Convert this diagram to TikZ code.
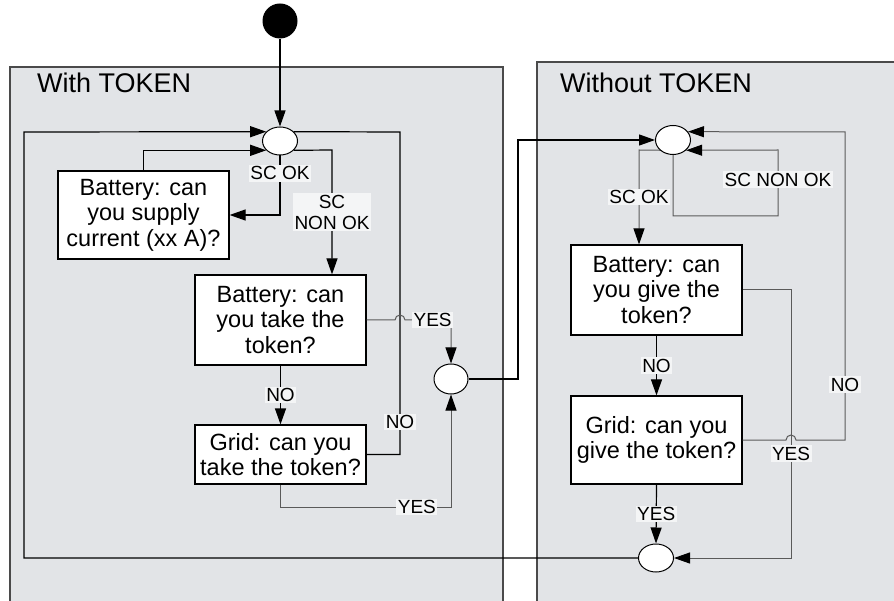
\documentclass[tikz,border=0pt]{standalone}
\usepackage{fontspec}
\setmainfont{Liberation Sans}
\usetikzlibrary{arrows.meta,shapes.geometric}
\definecolor{panel}{HTML}{E2E4E7}
\definecolor{labbg}{HTML}{F4F5F6}
\definecolor{edge}{HTML}{4A4A4A}
\definecolor{lgray}{HTML}{5A5A5A}
\tikzset{
  box/.style={draw=black, fill=white, line width=1.2pt, align=center, inner sep=0pt,
    minimum width=171pt, font=\fontsize{23.5}{25.5}\selectfont},
  junc/.style={ellipse, draw=black, fill=white, line width=1pt, inner sep=0pt,
    minimum width=35pt, minimum height=28pt},
  lab/.style={fill=labbg, inner sep=1.5pt, font=\fontsize{19}{21}\selectfont, align=center},
  flow/.style={line width=1.2pt, draw=black},
  arr/.style={flow, -{Triangle[length=16pt,width=11pt,color=black]}},
  thinflow/.style={line width=1pt, draw=lgray},
  arrthin/.style={thinflow, -{Triangle[length=16pt,width=11pt,color=black]}},
  paneltitle/.style={anchor=west, inner sep=0pt, font=\fontsize{27}{30}\selectfont}
}
\begin{document}
\begin{tikzpicture}[x=1pt,y=-1pt]
\useasboundingbox (0,0) rectangle (894,601);
% panels
\fill[panel] (10,67) rectangle (503,601);
\draw[edge, line width=1.5pt] (10,601) -- (10,67) -- (503,67) -- (503,601);
\fill[panel] (537,62) rectangle (894,601);
\draw[edge, line width=1.5pt] (537,601) -- (537,62) -- (894,62);
\node[paneltitle] (lt) at (37,83) {With TOKEN};
\node[paneltitle] (rt) at (560,83) {Without TOKEN};

% nodes
\node[circle, fill=black, minimum size=35pt, inner sep=0pt] (start) at (280,21) {};
\node[junc] (c1) at (280,141) {};
\node[junc, minimum width=34pt, minimum height=30pt] (m) at (451,379) {};
\node[junc, minimum height=29pt] (c2) at (673,140) {};
\node[junc] (c3) at (656,558) {};

\node[box, minimum height=88pt] (bs) at (143.5,215) {Battery: can\\you supply\\current (xx A)?};
\node[box, minimum height=90pt] (bt) at (280.5,320) {Battery: can\\you take the\\token?};
\node[box, minimum height=59pt] (gt) at (280.5,454.5) {Grid: can you\\take the token?};
\node[box, minimum height=90pt] (bg) at (656.5,290) {Battery: can\\you give the\\token?};
\node[box, minimum height=88pt] (gg) at (656.5,440) {Grid: can you\\give the token?};

% left panel connectors
\draw[arr] (start) -- (c1);
\draw[arr] (c3.west) -- (24,558) -- (24,132) -- (c1.146);
\draw[flow] (gt.east) -- (400,454.5) -- node[lab,pos=0.1]{NO} (400,132) -- (c1.34);
\draw[arr] (bs.north) |- (c1.214);
\draw[arr] (c1.south) -- node[lab,pos=0.3]{SC OK} (280,215) -- (bs.east);
\draw[arr] (c1.326) -- (332,150) -- node[lab]{SC\\NON OK} ([xshift=51.5]bt.north);
\draw[arr] (bt.south) -- node[lab]{NO} (gt.north);
\draw[arrthin] (bt.east) -- (395,320) arc[start angle=180,end angle=0,radius=5pt]
  -- node[lab,pos=0.6]{YES} (451,320) -- (m.north);
\draw[arrthin] (gt.south) -- (280.5,507) -- node[lab,pos=0.8]{YES} (451,507) -- (m.south);
\draw[arr] (m.east) -- (518,379) -- (518,140) -- (c2.west);

% right panel connectors
\draw[arrthin] (c2.218) -- (639,150) -- node[lab]{SC OK} ([xshift=-17.5]bg.north);
\draw[arrthin] (c2.south) -- (673,216) -- (778,216) -- node[lab,pos=0.55]{SC NON OK} (778,150) -- (c2.322);
\draw[arrthin] (gg.east) -- (786,440) arc[start angle=180,end angle=0,radius=5pt]
  -- (845,440) -- node[lab,pos=0.18]{NO} (845,132) -- (c2.29);
\draw[arrthin] (bg.east) -- (791,290) -- node[lab,pos=0.61]{YES} (791,558) -- (c3.east);
\draw[arr] (bg.south) -- node[lab]{NO} (gg.north);
\draw[arr] (gg.south) -- node[lab]{YES} (c3.north);
\end{tikzpicture}
\end{document}
